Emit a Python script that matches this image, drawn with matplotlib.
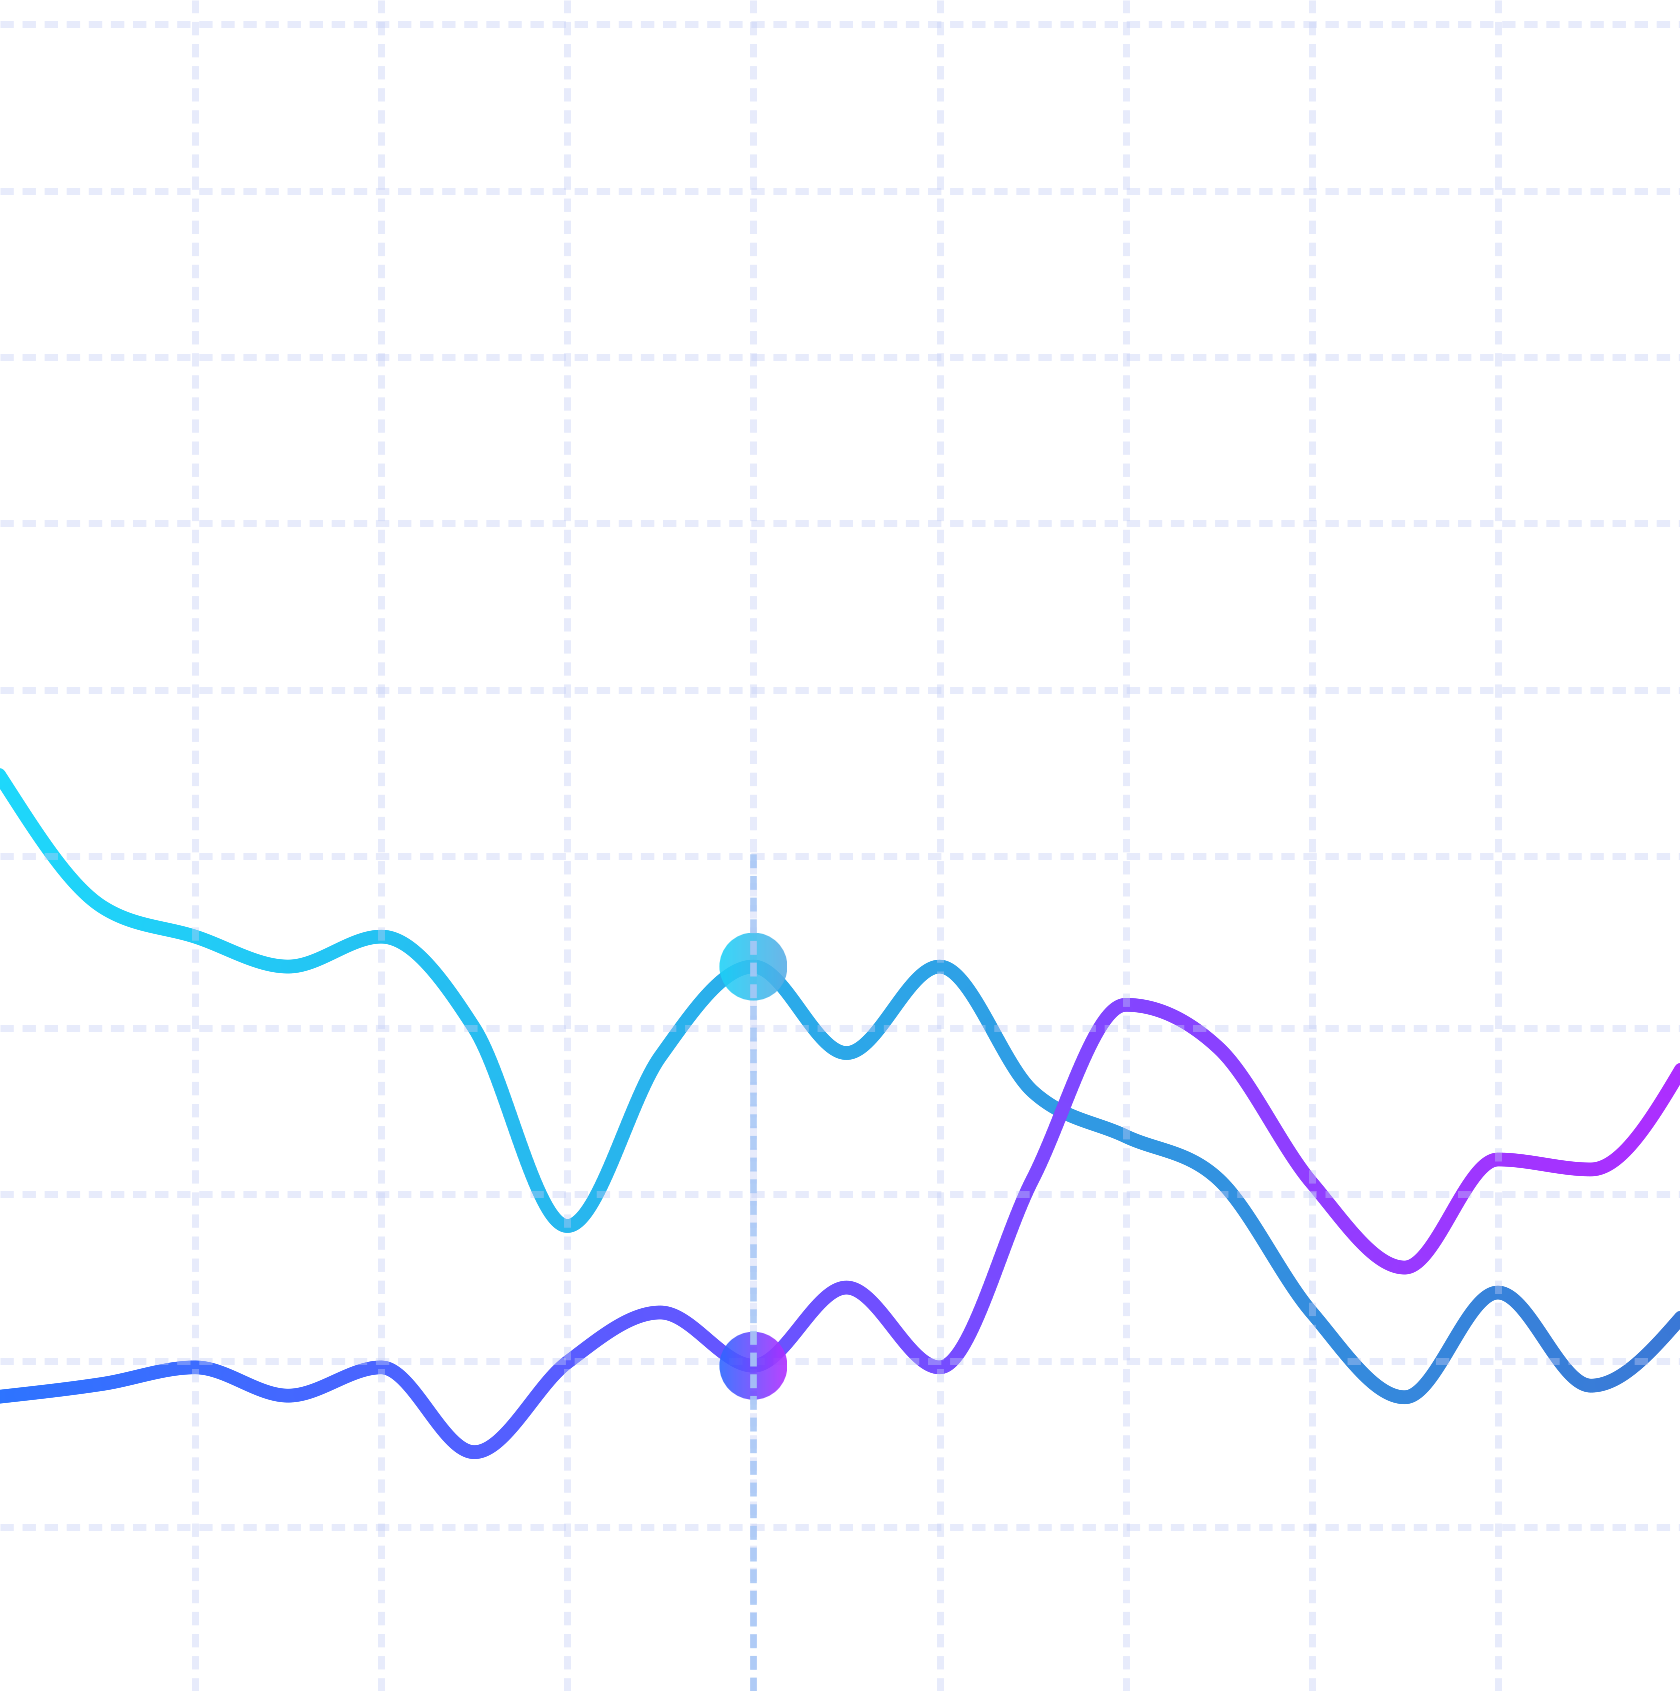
import numpy as np
import matplotlib
matplotlib.use("Agg")
import matplotlib.pyplot as plt
from matplotlib.collections import LineCollection
from matplotlib.patches import Ellipse
from matplotlib.colors import to_rgb

# ----------------------------------------------------
# Data
# ----------------------------------------------------
x_idx = np.arange(19)
upper = [54.3, 47.3, 45.5, 43.7, 45.5, 40.0, 28.1, 38.3, 43.7, 38.5,
         43.7, 36.2, 33.5, 30.9, 22.9, 17.8, 24.1, 18.5, 22.8]
lower = [17.9, 18.6, 19.6, 17.9, 19.6, 14.5, 19.9, 22.9, 19.7, 24.4,
         19.6, 30.9, 41.4, 38.8, 30.7, 25.6, 32.1, 31.5, 37.8]
highlight = 8
guide_top = 50.6

grid_x = [2, 4, 6, 8, 10, 12, 14, 16]
grid_y = [10, 20, 30, 40, 50.35, 60.35, 70.35, 80.35, 90.35, 100.35]

upper_colors = ("#1ed8fb", "#3a78d6")
lower_colors = ("#2d74ff", "#ad2eff")
upper_dot = ("#1bd2f8", "#58ace6")
lower_dot = ("#2c68ff", "#b22eff")

XLIM = (-0.097, 17.958)
YLIM = (0.14, 101.82)


# ----------------------------------------------------
# monotone cubic (like d3 curveMonotoneX)
# ----------------------------------------------------
def monotone(x, y, n=60, lead=0.12):
    x = np.asarray(x, float)
    y = np.asarray(y, float)
    h = np.diff(x)
    s = np.diff(y) / h
    t = np.zeros_like(y)
    for i in range(1, len(y) - 1):
        p = (s[i - 1] * h[i] + s[i] * h[i - 1]) / (h[i - 1] + h[i])
        t[i] = (np.sign(s[i - 1]) + np.sign(s[i])) * min(abs(s[i - 1]), abs(s[i]), 0.5 * abs(p))
    t[0] = (3 * s[0] - t[1]) / 2
    t[-1] = (3 * s[-1] - t[-2]) / 2
    xs, ys = [], []
    for i in range(len(x) - 1):
        # first piece runs a little past the left frame so the stroke is cut by the edge
        start = -lead if i == 0 else 0
        u = np.linspace(start, 1, n, endpoint=(i == len(x) - 2))
        h00 = 2 * u**3 - 3 * u**2 + 1
        h10 = u**3 - 2 * u**2 + u
        h01 = -2 * u**3 + 3 * u**2
        h11 = u**3 - u**2
        xs.append(x[i] + u * h[i])
        ys.append(h00 * y[i] + h10 * h[i] * t[i] + h01 * y[i + 1] + h11 * h[i] * t[i + 1])
    return np.concatenate(xs), np.concatenate(ys)


def gradient_line(ax, x, y, colors, lw):
    xs, ys = monotone(x, y)
    pts = np.column_stack([xs, ys])
    segs = np.stack([pts[:-1], pts[1:]], axis=1)
    c0, c1 = np.array(to_rgb(colors[0])), np.array(to_rgb(colors[1]))
    f = ((xs[:-1] + xs[1:]) / 2 - XLIM[0]) / (XLIM[1] - XLIM[0])
    f = np.clip(f, 0, 1)[:, None]
    cols = (1 - f) * c0 + f * c1
    lc = LineCollection(segs, colors=cols, linewidths=lw, capstyle="round",
                        joinstyle="round", zorder=2)
    ax.add_collection(lc)


def gradient_dot(ax, x, y, colors, r_px, alpha):
    cx, cy = ax.transData.transform((x, y))
    inv = ax.transData.inverted()
    x0, y0 = inv.transform((cx - r_px, cy - r_px))
    x1, y1 = inv.transform((cx + r_px, cy + r_px))
    g = np.linspace(0, 1, 256)[None, :, None]
    c0, c1 = np.array(to_rgb(colors[0])), np.array(to_rgb(colors[1]))
    img = (1 - g) * c0 + g * c1
    im = ax.imshow(img, extent=(x0, x1, y0, y1), aspect="auto", alpha=alpha,
                   interpolation="bilinear", zorder=3)
    clip = Ellipse((x, y), x1 - x0, y1 - y0, transform=ax.transData)
    im.set_clip_path(clip)


# ----------------------------------------------------
# Figure
# ----------------------------------------------------
plt.rcParams["lines.scale_dashes"] = False

fig = plt.figure(figsize=(16.8, 16.91), dpi=100)
ax = fig.add_axes([0, 0, 1, 1])
ax.set_xlim(*XLIM)
ax.set_ylim(*YLIM)
for sp in ax.spines.values():
    sp.set_visible(False)
ax.set_xticks(grid_x)
ax.set_yticks(grid_y)
ax.tick_params(length=0, labelleft=False, labelbottom=False)
ax.set_axisbelow(False)
ax.grid(True, color="#c3cdf6", alpha=0.4, linewidth=5, linestyle=(0, (9.6, 6.3)))

gradient_line(ax, x_idx, upper, upper_colors, 9.7)
gradient_line(ax, x_idx, lower, lower_colors, 9.7)

gradient_dot(ax, x_idx[highlight], upper[highlight], upper_dot, 34, 0.88)
gradient_dot(ax, x_idx[highlight], lower[highlight], lower_dot, 34, 0.9)

# guide line on the highlighted point
ax.plot([highlight, highlight], [YLIM[0], guide_top], color="#a9c8f6", alpha=0.9,
        linewidth=4.8, linestyle=(0, (10, 5.6)), zorder=4)

ax.set_xlim(*XLIM)
ax.set_ylim(*YLIM)

fig.savefig("out.png", dpi=100, facecolor="white")
